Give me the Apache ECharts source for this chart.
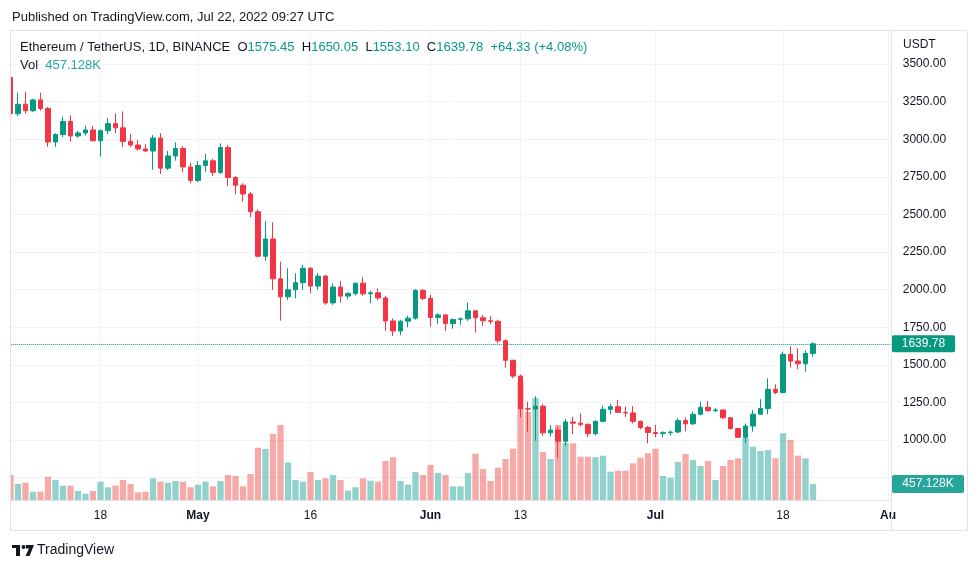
<!DOCTYPE html>
<html><head><meta charset="utf-8">
<script src="https://cdn.jsdelivr.net/npm/echarts@6/dist/echarts.min.js"></script>
<style>html,body{margin:0;padding:0;background:#fff}#c{width:980px;height:569px}</style>
</head><body><div id="c"></div>
<script>
// ---- categories / ticks ----
const START_DATE = [2022, 3, 6];   // 2022-04-06
const DAY_COUNT = 118;             // through 2022-08-01
const tickDates = ['2022-04-18','2022-05-01','2022-05-16','2022-06-01','2022-06-13','2022-07-01','2022-07-18','2022-08-01'];
const tickLabels = ['18','May','16','Jun','13','Jul','18','Au'];
const boldTickLabels = ['May','Jun','Jul','Au'];
const priceLabelMin = 1000, priceLabelMax = 3500;

// ---- daily OHLC (ETH/USDT, Binance) ----
const opens = [
 3411,3170,3233,3190,3262,3205,2982,3032,3118,3022,
 3042,3062,2990,3057,3104,3076,2986,2962,2936,2922,
 3008,2808,2889,2938,2816,2726,2826,2857,2780,2945,
 2746,2694,2636,2518,2222,2337,2072,1952,1999,2046,
 2142,2024,2090,1912,2017,1957,1975,2043,1972,1979,
 1945,1792,1725,1790,1810,1995,1942,1815,1832,1775,
 1802,1806,1859,1813,1793,1789,1660,1530,1425,1208,
 1206,1225,1048,1066,992,1120,1112,1104,1042,1124,
 1204,1222,1184,1180,1124,1083,1050,1043,1049,1053,
 1129,1108,1171,1218,1195,1200,1148,1076,1018,1093,
 1172,1210,1337,1316,1570,1525,1507,1575.45];
const closes = [
 3170,3233,3190,3262,3205,2982,3032,3118,3022,3042,
 3062,2990,3057,3104,3076,2986,2962,2936,2922,3008,
 2808,2889,2938,2816,2726,2826,2857,2780,2945,2746,
 2694,2636,2518,2222,2337,2072,1952,1999,2046,2142,
 2024,2090,1912,2017,1957,1975,2043,1972,1979,1945,
 1792,1725,1790,1810,1995,1942,1815,1832,1775,1802,
 1806,1859,1813,1793,1789,1660,1530,1425,1208,1206,
 1225,1048,1066,992,1120,1112,1104,1042,1124,1204,
 1222,1184,1180,1124,1083,1050,1043,1049,1053,1129,
 1108,1171,1218,1195,1200,1148,1076,1018,1093,1172,
 1210,1337,1316,1570,1525,1507,1575.45,1639.78];
const lows = [
 3150,3155,3170,3180,3190,2950,2950,3015,2984,3010,
 3025,2985,2885,3033,3040,2948,2948,2924,2915,2797,
 2770,2795,2858,2780,2707,2716,2785,2756,2770,2690,
 2634,2585,2481,2215,2193,1998,1794,1931,1942,1998,
 1976,2000,1900,1898,1914,1936,1960,1960,1910,1930,
 1727,1692,1697,1750,1800,1930,1753,1771,1727,1740,
 1765,1792,1714,1758,1770,1643,1481,1410,1150,1055,
 995,1029,1022,880,960,1040,1090,1020,1030,1118,
 1170,1180,1155,1110,1071,978,1018,1018,1030,1045,
 1057,1100,1165,1190,1185,1140,1070,1015,982,1055,
 1168,1172,1304,1310,1483,1470,1455,1553.10];
const highs = [
 3416,3310,3316,3270,3310,3215,3040,3150,3160,3055,
 3090,3088,3065,3140,3172,3185,3035,2995,2967,3028,
 3040,2922,2980,2955,2845,2856,2902,2870,2973,2960,
 2755,2707,2650,2534,2457,2448,2186,2142,2109,2164,
 2150,2112,2098,2042,2058,1982,2046,2082,1993,2009,
 1958,1809,1800,1827,2003,2004,1965,1843,1836,1807,
 1816,1915,1862,1831,1825,1800,1670,1533,1435,1255,
 1292,1240,1100,1090,1140,1155,1178,1110,1130,1228,
 1240,1266,1222,1226,1128,1093,1100,1058,1062,1145,
 1150,1190,1256,1260,1215,1203,1152,1082,1110,1200,
 1271,1410,1370,1588,1625,1610,1595,1650.05];
// volume, thousands of ETH
const volumes = [
 714,457,494,237,237,666,571,409,409,257,
 180,257,523,363,409,571,457,220,237,620,
 523,494,543,523,363,437,523,391,543,714,
 686,391,743,1494,1457,1886,2143,1077,571,523,
 800,571,620,714,571,266,363,620,551,523,
 1114,1220,543,437,800,714,1000,771,714,391,
 391,771,1323,886,543,923,1171,1466,3371,2514,
 2914,1371,1171,2143,1629,1620,1237,1237,1220,1266,
 809,837,837,1049,1209,1334,1466,686,637,1086,
 1314,1143,971,1114,571,971,1143,1191,1771,1523,
 1400,1429,1191,1906,1714,1266,1191,457.128];

// ---- build ----
const dates = [];
(function () {
  const d0 = Date.UTC(START_DATE[0], START_DATE[1], START_DATE[2]);
  for (let i = 0; i < DAY_COUNT; i++) dates.push(new Date(d0 + i * 86400000).toISOString().slice(0, 10));
})();

const FONT = '"Liberation Sans", Arial, sans-serif';
const UP = '#089981', DOWN = '#F23645';
const VOL_UP = 'rgba(38,166,154,0.5)', VOL_DOWN = 'rgba(239,83,80,0.5)';
const TEXT = '#131722', GRID = '#f0f3fa', BORDER = '#e0e3eb';

const last = closes.length - 1;
const chg = closes[last] - closes[last - 1];
const chgPct = chg / closes[last - 1] * 100;

const candleData = opens.map((o, i) => [o, closes[i], lows[i], highs[i]]);
const volData = volumes.map((v, i) => ({ value: v, itemStyle: { color: closes[i] >= opens[i] ? VOL_UP : VOL_DOWN } }));
const isTick = (i, v) => tickDates.indexOf(v) >= 0;

const chart = echarts.init(document.getElementById('c'), null, { renderer: 'canvas' });
chart.setOption({
  animation: false,
  backgroundColor: '#fff',
  textStyle: { fontFamily: FONT },
  grid: [
    { left: 6.75, right: 88.25, top: 26.5, bottom: 53.8 },
    { left: 6.75, right: 88.25, top: 30, bottom: 69 }
  ],
  xAxis: [
    { type: 'category', gridIndex: 0, data: dates, boundaryGap: true,
      axisLine: { show: false }, axisTick: { show: false }, axisLabel: { show: false }, splitLine: { show: false } },
    { type: 'category', gridIndex: 1, data: dates, boundaryGap: true,
      axisLine: { show: true, lineStyle: { color: BORDER } }, axisTick: { show: false },
      axisLabel: {
        interval: isTick, margin: 10, color: TEXT, fontSize: 12, fontFamily: FONT,
        formatter: function (v) {
          const t = tickLabels[tickDates.indexOf(v)];
          return boldTickLabels.indexOf(t) >= 0 ? '{b|' + t + '}' : t;
        },
        rich: { b: { fontWeight: 'bold', fontSize: 12, color: TEXT, fontFamily: FONT } }
      },
      splitLine: { show: true, interval: isTick, alignWithLabel: true, lineStyle: { color: GRID, width: 1 } } }
  ],
  yAxis: [
    { type: 'value', gridIndex: 0, position: 'right', min: 500, max: 3750, interval: 250,
      axisLine: { show: false }, axisTick: { show: false },
      axisLabel: { margin: 11, color: TEXT, fontSize: 12, fontFamily: FONT,
        formatter: v => (v >= priceLabelMin && v <= priceLabelMax) ? v.toFixed(2) : '' },
      splitLine: { show: true, showMinLine: false, showMaxLine: false, lineStyle: { color: GRID, width: 1 } } },
    { type: 'value', gridIndex: 1, min: 0, max: 13430, show: false, splitLine: { show: false } }
  ],
  series: [
    { type: 'bar', name: 'Vol', xAxisIndex: 1, yAxisIndex: 1, data: volData, barWidth: '84%', z: 1 },
    { type: 'candlestick', name: 'ETHUSDT', xAxisIndex: 0, yAxisIndex: 0, data: candleData, barWidth: 5, z: 3,
      itemStyle: { color: UP, color0: DOWN, borderColor: UP, borderColor0: DOWN, borderWidth: 1 },
      markLine: {
        silent: true, symbol: ['none', 'none'], animation: false,
        lineStyle: { color: UP, type: 'dotted', width: 1 },
        label: { show: true, position: 'end', distance: 0, formatter: closes[last].toFixed(2),
          color: '#fff', backgroundColor: UP, padding: [3, 10, 2, 10], borderRadius: 2, fontSize: 12, fontFamily: FONT },
        data: [{ yAxis: closes[last] }]
      } }
  ]
});

const vy = chart.convertToPixel({ seriesIndex: 0 }, [dates[last], volumes[last]])[1];
const volText = volumes[last].toFixed(3) + 'K';

chart.setOption({
  graphic: [
    { type: 'rect', z: 100, shape: { x: 0, y: 28, width: 10.5, height: 505 }, style: { fill: '#fff' } },
    { type: 'rect', z: 101, shape: { x: 10.5, y: 30.5, width: 957, height: 500 }, style: { fill: 'none', stroke: BORDER, lineWidth: 1 } },
    { type: 'line', z: 101, shape: { x1: 891.5, y1: 30.5, x2: 891.5, y2: 530.5 }, style: { stroke: BORDER, lineWidth: 1 } },
    { type: 'text', z: 102, x: 12, y: 17, style: { text: 'Published on TradingView.com, Jul 22, 2022 09:27 UTC', fill: TEXT, font: '13px ' + FONT, verticalAlign: 'middle' } },
    { type: 'text', z: 102, x: 20, y: 47, style: {
        text: '{t|Ethereum / TetherUS, 1D, BINANCE}  {k|O}{v|' + opens[last].toFixed(2) + '}  {k|H}{v|' + highs[last].toFixed(2) +
              '}  {k|L}{v|' + lows[last].toFixed(2) + '}  {k|C}{v|' + closes[last].toFixed(2) + '}  {v|' +
              (chg >= 0 ? '+' : '') + chg.toFixed(2) + ' (' + (chg >= 0 ? '+' : '') + chgPct.toFixed(2) + '%)}',
        verticalAlign: 'middle', font: '13px ' + FONT,
        rich: { t: { fill: TEXT, fontSize: 13, fontFamily: FONT }, k: { fill: TEXT, fontSize: 13, fontFamily: FONT }, v: { fill: UP, fontSize: 13, fontFamily: FONT } } } },
    { type: 'text', z: 102, x: 20, y: 65, style: {
        text: '{k|Vol}  {v|' + volText + '}', verticalAlign: 'middle', font: '13px ' + FONT,
        rich: { k: { fill: TEXT, fontSize: 13, fontFamily: FONT }, v: { fill: '#26a69a', fontSize: 13, fontFamily: FONT } } } },
    { type: 'text', z: 102, x: 903, y: 45, style: { text: 'USDT', fill: TEXT, font: '12px ' + FONT, verticalAlign: 'middle' } },
    { type: 'rect', z: 102, shape: { x: 892, y: vy - 9, width: 72, height: 18, r: 2 }, style: { fill: '#26a69a' } },
    { type: 'text', z: 103, x: 928, y: vy, style: { text: volText, fill: '#fff', font: '12px ' + FONT, align: 'center', verticalAlign: 'middle' } },
    // TradingView logo
    { type: 'rect', z: 102, shape: { x: 12, y: 545, width: 8, height: 3 }, style: { fill: TEXT } },
    { type: 'rect', z: 102, shape: { x: 16, y: 545, width: 4, height: 11 }, style: { fill: TEXT } },
    { type: 'circle', z: 102, shape: { cx: 23.5, cy: 547, r: 2 }, style: { fill: TEXT } },
    { type: 'polygon', z: 102, shape: { points: [[26, 545], [34, 545], [29.5, 556], [25.5, 556], [29, 548.5], [26, 548.5]] }, style: { fill: TEXT } },
    { type: 'text', z: 102, x: 37, y: 550, style: { text: 'TradingView', fill: TEXT, font: '14px ' + FONT, verticalAlign: 'middle' } }
  ]
});
</script>
</body></html>
